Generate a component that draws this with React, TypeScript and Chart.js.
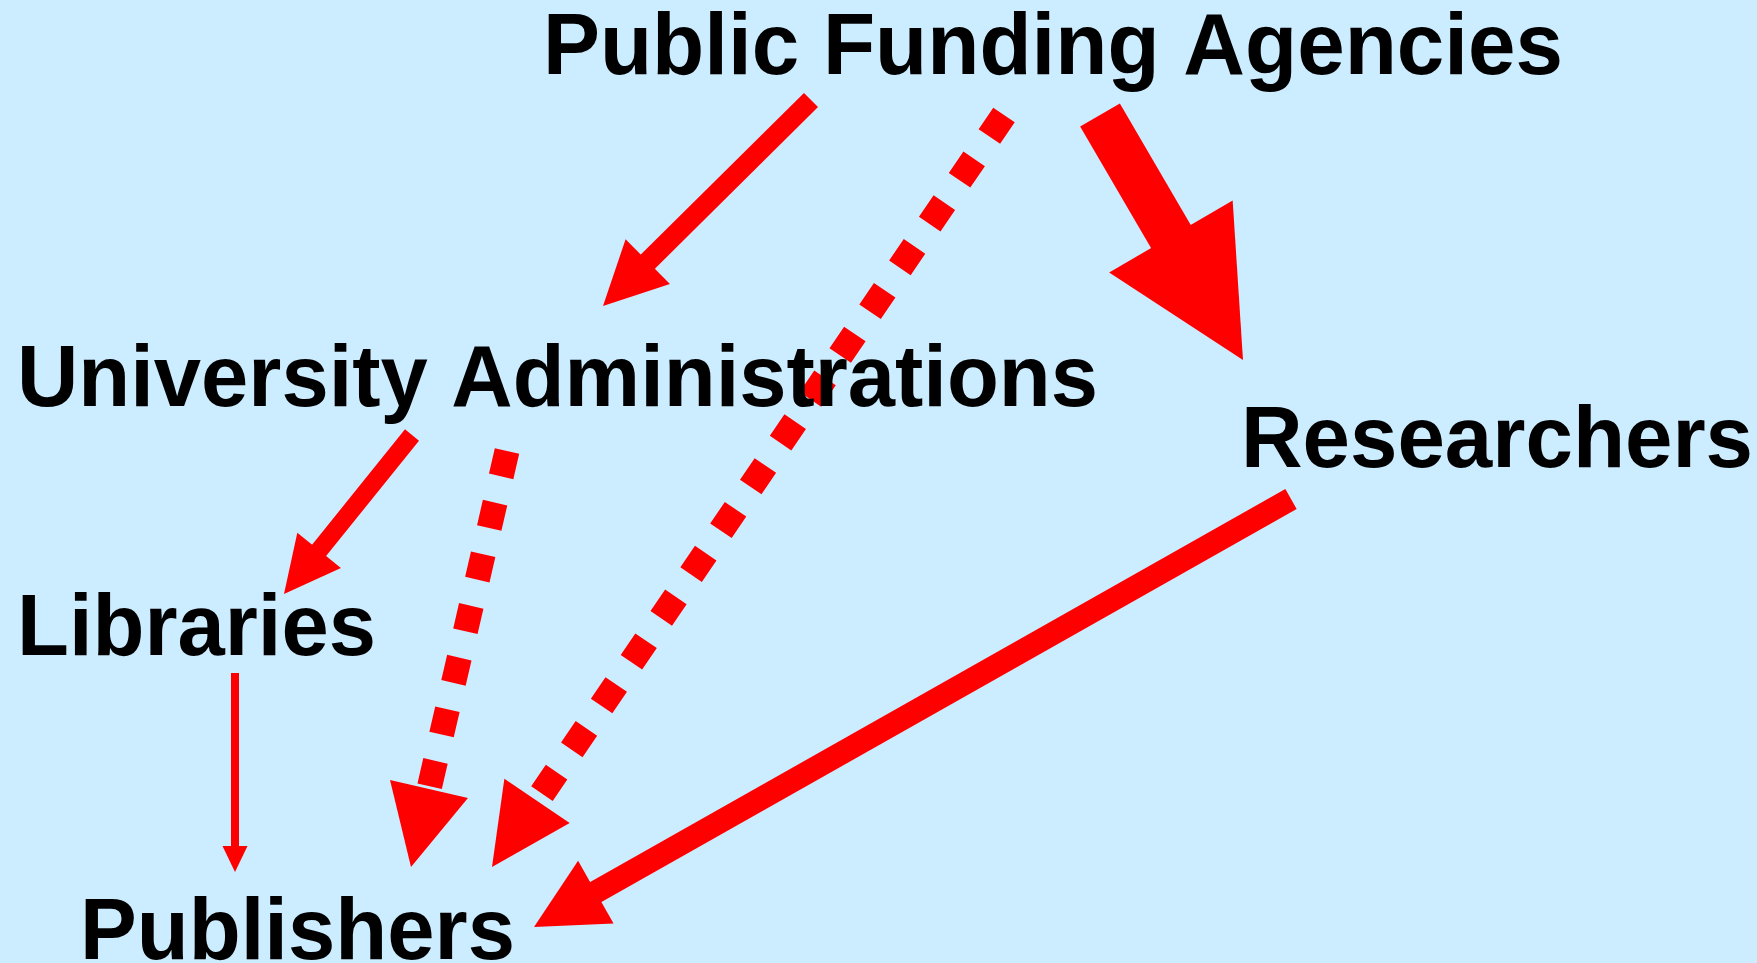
import React, { useEffect, useRef } from "react";
import { Chart, registerables } from "chart.js";

Chart.register(...registerables);

// Nodes of the diagram (text anchor: left edge and baseline, in diagram units)
const nodeLabels = [
  "Public Funding Agencies",
  "University Administrations",
  "Researchers",
  "Libraries",
  "Publishers",
];
const nodeX = [543, 17, 1241, 17, 80];
const nodeY = [74, 406, 467, 655, 959];
const nodeWidth = [1020, 1081, 512, 359, 435];

// Arrows: start point, tip point, shaft width, head width/length, dashed
const arrowFromX = [811, 1100, 412, 235, 1004, 507, 1291];
const arrowFromY = [100, 115, 435, 673, 115, 451, 499];
const arrowToX = [603, 1243, 284, 235, 492, 411, 534];
const arrowToY = [306, 360, 594, 872, 867, 867, 927];
const arrowShaft = [20, 46, 18, 8, 26, 25, 23];
const arrowHeadW = [63, 143, 56, 25, 79, 80, 72];
const arrowHeadL = [63, 143, 56, 26, 80, 80, 71];
const arrowDashed = [false, false, false, false, true, true, false];

const W = 1757;
const H = 963;
const BG = "#CCECFF";
const RED = "#FF0000";

function shaftEnd(i: number) {
  const dx = arrowToX[i] - arrowFromX[i];
  const dy = arrowToY[i] - arrowFromY[i];
  const len = Math.hypot(dx, dy);
  const back = arrowDashed[i] ? arrowHeadL[i] : arrowHeadL[i] - 2;
  return { x: arrowToX[i] - (dx / len) * back, y: arrowToY[i] - (dy / len) * back };
}

export default function App() {
  const ref = useRef<HTMLCanvasElement | null>(null);

  useEffect(() => {
    const canvas = ref.current;
    if (!canvas) return;

    const datasets = arrowFromX.map((_, i) => ({
      label: "arrow" + i,
      data: [{ x: arrowFromX[i], y: arrowFromY[i] }, shaftEnd(i)],
      showLine: true,
      borderColor: RED,
      backgroundColor: RED,
      borderWidth: arrowShaft[i],
      borderDash: arrowDashed[i] ? [26, 27] : [],
      borderCapStyle: "butt" as const,
      pointRadius: 0,
      pointHoverRadius: 0,
      clip: false as const,
    }));

    const bgPlugin = {
      id: "bg",
      beforeDraw(chart: any) {
        const ctx = chart.ctx;
        ctx.save();
        ctx.fillStyle = BG;
        ctx.fillRect(0, 0, chart.width, chart.height);
        ctx.restore();
      },
    };

    const headsPlugin = {
      id: "heads",
      afterDatasetsDraw(chart: any) {
        const ctx = chart.ctx;
        const xs = chart.scales.x;
        const ys = chart.scales.y;
        ctx.save();
        ctx.fillStyle = RED;
        for (let i = 0; i < arrowToX.length; i++) {
          const fx = xs.getPixelForValue(arrowFromX[i]);
          const fy = ys.getPixelForValue(arrowFromY[i]);
          const tx = xs.getPixelForValue(arrowToX[i]);
          const ty = ys.getPixelForValue(arrowToY[i]);
          const dx = tx - fx;
          const dy = ty - fy;
          const len = Math.hypot(dx, dy);
          const ux = dx / len;
          const uy = dy / len;
          const px = -uy;
          const py = ux;
          const bx = tx - ux * arrowHeadL[i];
          const by = ty - uy * arrowHeadL[i];
          const hw = arrowHeadW[i] / 2;
          ctx.beginPath();
          ctx.moveTo(tx, ty);
          ctx.lineTo(bx + px * hw, by + py * hw);
          ctx.lineTo(bx - px * hw, by - py * hw);
          ctx.closePath();
          ctx.fill();
        }
        ctx.restore();
      },
    };

    const labelsPlugin = {
      id: "labels",
      afterDraw(chart: any) {
        const ctx = chart.ctx;
        const xs = chart.scales.x;
        const ys = chart.scales.y;
        ctx.save();
        ctx.fillStyle = "#000000";
        ctx.font = 'bold 87px "Liberation Sans", Arial, sans-serif';
        ctx.textBaseline = "alphabetic";
        ctx.textAlign = "left";
        nodeLabels.forEach((label, i) => {
          ctx.fillText(label, xs.getPixelForValue(nodeX[i]), ys.getPixelForValue(nodeY[i]), nodeWidth[i]);
        });
        ctx.restore();
      },
    };

    const chart = new Chart(canvas, {
      type: "scatter",
      data: { datasets },
      options: {
        animation: false,
        responsive: false,
        maintainAspectRatio: false,
        devicePixelRatio: 1,
        layout: { padding: 0 },
        events: [],
        plugins: {
          legend: { display: false },
          tooltip: { enabled: false },
          title: { display: false },
        },
        scales: {
          x: { type: "linear", min: 0, max: W, display: false },
          y: { type: "linear", min: 0, max: H, reverse: true, display: false },
        },
      },
      plugins: [bgPlugin, headsPlugin, labelsPlugin],
    });

    return () => chart.destroy();
  }, []);

  return (
    <div style={{ position: "fixed", left: 0, top: 0, width: W, height: H, background: BG }}>
      <canvas ref={ref} width={W} height={H} style={{ display: "block", width: W, height: H }} />
    </div>
  );
}
